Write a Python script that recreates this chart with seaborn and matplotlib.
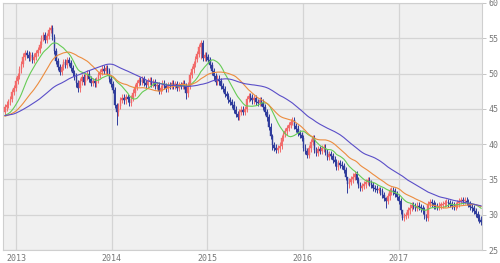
import numpy as np
import pandas as pd
import matplotlib
matplotlib.use("Agg")
import matplotlib.pyplot as plt
import matplotlib.dates as mdates
import seaborn as sns

# ---------------- data (weekly closes) ----------------
start_date = "2012-11-19"
# weeks before the visible window (only used to seed the moving averages)
pre_closes = [43.2, 43.5, 43.9, 44.3, 44.6, 44.2, 43.8, 43.5, 43.9, 44.4, 44.8, 45.1, 44.7,
              44.3, 44.0, 43.6, 43.4, 43.8, 44.2, 44.5, 44.1, 43.7, 43.9, 44.3, 44.6, 44.4,
              44.0, 43.6, 43.3, 43.7, 44.1, 44.5, 44.2, 43.8, 43.5, 43.9, 44.3, 44.0, 43.7,
              43.5, 43.8, 44.1, 43.9, 43.6, 43.4, 43.7, 44.0, 44.3, 44.1, 43.8, 44.2, 44.6]
closes = [45.2, 45.6, 46.0, 46.4, 47.4, 48.0, 49.0, 49.7, 50.6, 51.4,
          52.4, 52.9, 52.7, 52.2, 52.6, 51.9, 52.4, 52.9, 53.3, 54.1,
          55.0, 55.5, 54.8, 55.3, 56.2, 56.5, 55.2, 53.2, 51.8, 50.9,
          50.2, 50.9, 51.6, 51.2, 51.9, 51.5, 50.8, 50.1, 49.6, 48.6,
          47.9, 48.9, 49.5, 48.8, 49.6, 50.0, 49.2, 48.7, 48.9, 48.6,
          49.1, 49.8, 50.2, 50.7, 50.4, 50.8, 50.3, 49.3, 48.5, 47.7,
          45.6, 44.5, 45.4, 46.3, 46.6, 46.2, 46.7, 46.4, 45.8, 46.5,
          47.3, 48.1, 48.7, 49.1, 48.8, 49.2, 48.7, 48.4, 48.9, 49.0,
          48.5, 48.8, 48.3, 48.4, 47.6, 48.0, 48.6, 48.2, 47.9, 48.4,
          48.2, 48.7, 48.3, 48.5, 48.0, 48.4, 48.2, 48.6, 48.3, 47.2,
          48.3, 49.8, 50.6, 51.4, 52.1, 52.8, 53.7, 54.3, 52.2, 52.6,
          52.3, 51.9, 51.2, 50.3, 49.6, 48.8, 49.3, 48.9, 48.2, 47.8,
          47.1, 46.8, 46.3, 46.0, 45.6, 44.9, 44.3, 43.9, 44.6, 44.9,
          44.6, 45.0, 46.4, 46.8, 46.6, 46.2, 46.5, 46.0, 45.8, 46.3,
          45.9, 45.3, 44.6, 43.8, 42.5, 41.2, 39.9, 39.5, 39.2, 39.4,
          39.8, 40.9, 41.4, 41.8, 42.3, 42.7, 43.1, 43.4, 42.6, 42.2,
          41.6, 41.3, 40.9, 39.5, 39.0, 38.5, 39.4, 40.3, 40.8, 39.2,
          38.7, 39.3, 39.0, 39.4, 39.5, 38.9, 38.2, 38.6, 38.3, 37.8,
          37.4, 36.8, 37.3, 37.1, 36.9, 36.3, 35.3, 34.3, 34.7, 35.0,
          35.4, 35.8, 34.9, 34.2, 33.8, 34.1, 34.3, 34.6, 34.9, 34.5,
          34.2, 33.8, 33.7, 33.5, 33.5, 33.3, 32.8, 32.4, 31.9, 32.6,
          33.3, 33.5, 33.3, 32.9, 32.5, 31.9, 30.6, 29.6, 29.8, 30.0,
          30.6, 31.0, 31.4, 31.2, 31.0, 31.3, 31.1, 30.9, 30.6, 29.9,
          29.5, 31.5, 31.8, 31.6, 31.3, 31.2, 31.1, 31.3, 31.4, 31.5,
          31.7, 31.8, 31.6, 31.5, 31.3, 31.1, 31.4, 31.6, 31.9, 32.1,
          31.9, 32.0, 31.8, 31.5, 31.1, 30.9, 30.5, 30.1, 29.6, 29.3,
          29.0]
# notable long wicks: week index -> (high, low)
long_wicks = {61: (45.8, 42.7), 99: (48.6, 46.4), 107: (54.7, 52.0),
              187: (35.4, 33.1), 208: (32.5, 30.9), 217: (30.7, 29.2),
              230: (30.1, 29.1), 146: (41.4, 39.2)}
wick_size = 0.45
ma_windows = [13, 26, 52]
ma_colors = ["#66cc55", "#ec8c3e", "#5a4ec8"]
up_color = "#f26a6a"
down_color = "#2f3c9c"
y_ticks = [25, 30, 35, 40, 45, 50, 55, 60]
x_tick_labels = ["2013", "2014", "2015", "2016", "2017"]

# ---------------- build frame ----------------
all_closes = pd.Series(pre_closes + closes, dtype=float)
n_pre = len(pre_closes)
dates = pd.date_range(start_date, periods=len(closes), freq="7D")
df = pd.DataFrame({"date": dates, "close": closes})
df["open"] = all_closes.shift(1).iloc[n_pre:].values
for w in ma_windows:
    df[f"ma{w}"] = all_closes.rolling(w).mean().iloc[n_pre:].values
df["high"] = np.maximum(df["open"], df["close"]) + wick_size
df["low"] = np.minimum(df["open"], df["close"]) - wick_size
for k, (h, l) in long_wicks.items():
    df.loc[k, "high"] = h
    df.loc[k, "low"] = l

# ---------------- plot ----------------
sns.set_style("whitegrid", {"axes.facecolor": "#f0f0f0", "grid.color": "#d4d4d4",
                            "axes.edgecolor": "#cfcfcf"})
plt.rcParams["font.family"] = ["DejaVu Sans Mono", "DejaVu Sans"]

fig = plt.figure(figsize=(5.0, 2.63), dpi=100)
ax = fig.add_axes([3 / 500, 1 - 250 / 263, 479 / 500, 247 / 263])

x = mdates.date2num(df["date"])
up = df["close"] >= df["open"]
cols = np.where(up, up_color, down_color)

ax.vlines(x, df["low"], df["high"], colors=cols, linewidth=0.7, zorder=2)
body = (df["close"] - df["open"]).values
body = np.where(np.abs(body) < 0.15, np.where(body >= 0, 0.15, -0.15), body)
ax.bar(x, body, bottom=df["open"], width=5.6, color=cols, edgecolor=cols,
       linewidth=0.3, zorder=3)

for w, c in zip(ma_windows, ma_colors):
    sns.lineplot(data=df, x="date", y=f"ma{w}", color=c, linewidth=0.8, ax=ax, zorder=4)

ax.set_ylim(25, 60)
ax.set_xlim(pd.Timestamp("2012-11-12"), pd.Timestamp("2017-11-16"))
ax.set_yticks(y_ticks)
ax.yaxis.tick_right()
ax.tick_params(axis="y", which="both", right=True, length=3, width=0.6, color="#bbbbbb",
               labelsize=6, labelcolor="#777777", pad=1.5)
ax.set_xticks([pd.Timestamp(f"{y}-01-01") for y in x_tick_labels])
ax.set_xticklabels(x_tick_labels)
ax.tick_params(axis="x", length=0, labelsize=6, labelcolor="#777777", pad=3)
ax.grid(True, color="#d4d4d4", linewidth=0.9)
ax.set_xlabel("")
ax.set_ylabel("")
for s in ax.spines.values():
    s.set_color("#cfcfcf")
    s.set_linewidth(0.8)

fig.savefig("out.png", dpi=100, facecolor="white")
